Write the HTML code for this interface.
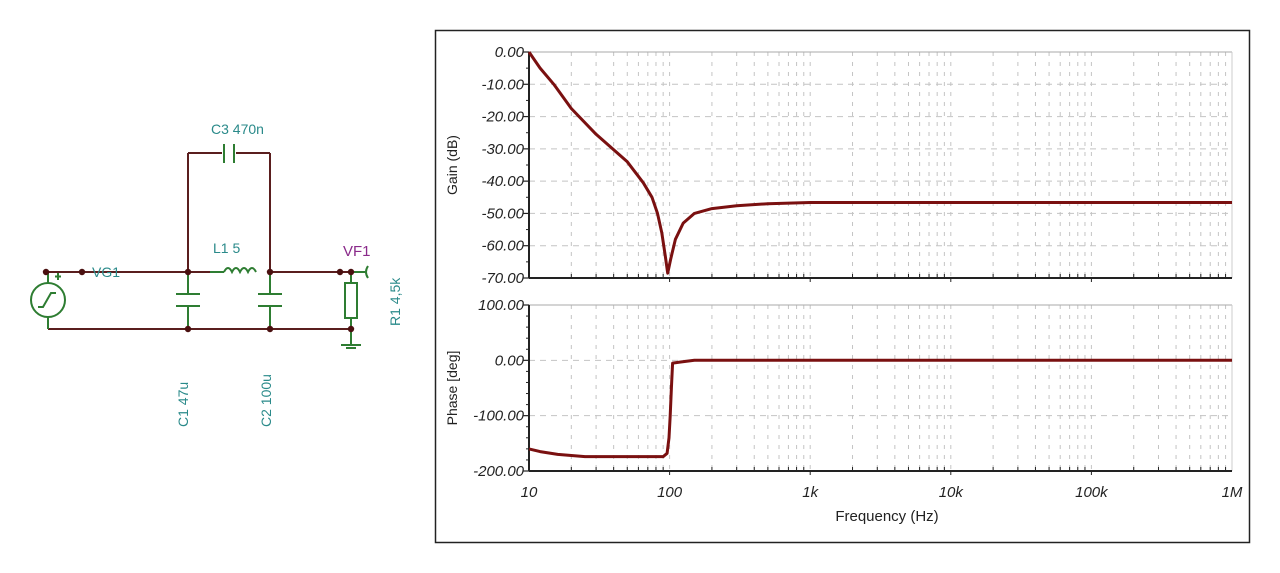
<!DOCTYPE html>
<html><head><meta charset="utf-8"><style>
html,body{margin:0;padding:0;background:#fff;}
svg{display:block;font-family:"Liberation Sans",Arial,sans-serif;}
</style></head><body>
<svg id="s" width="1280" height="573" viewBox="0 0 1280 573" xmlns="http://www.w3.org/2000/svg">
<rect width="1280" height="573" fill="#fff"/>
<g stroke="#5a1e1e" stroke-width="2" fill="none">
<line x1="46" y1="272" x2="188" y2="272"/>
<line x1="188" y1="272" x2="210" y2="272"/>
<line x1="270" y1="272" x2="362" y2="272"/>
<line x1="188" y1="272" x2="188" y2="153"/>
<line x1="188" y1="153" x2="222" y2="153"/>
<line x1="236" y1="153" x2="270" y2="153"/>
<line x1="270" y1="153" x2="270" y2="272"/>
<line x1="48" y1="329" x2="351" y2="329"/>
</g>
<g stroke="#2e7d32" stroke-width="2" fill="none">
<line x1="210" y1="272" x2="224" y2="272"/>
<path d="M224 272 q4 -8 8 0 q4 -8 8 0 q4 -8 8 0 q4 -8 8 0"/>
<line x1="224" y1="144" x2="224" y2="163"/>
<line x1="234" y1="144" x2="234" y2="163"/>
<line x1="48" y1="272" x2="48" y2="283"/><circle cx="48" cy="300" r="17"/>
<line x1="48" y1="317" x2="48" y2="329"/>
<path d="M38 307 h5 l8 -14 h5"/>
<line x1="188" y1="272" x2="188" y2="294"/><line x1="176" y1="294" x2="200" y2="294"/><line x1="176" y1="306" x2="200" y2="306"/><line x1="188" y1="306" x2="188" y2="329"/>
<line x1="270" y1="272" x2="270" y2="294"/><line x1="258" y1="294" x2="282" y2="294"/><line x1="258" y1="306" x2="282" y2="306"/><line x1="270" y1="306" x2="270" y2="329"/>
<line x1="351" y1="272" x2="351" y2="283"/><rect x="345" y="283" width="12" height="35"/><line x1="351" y1="318" x2="351" y2="345"/>
<line x1="341" y1="345" x2="361" y2="345"/><line x1="346" y1="348" x2="356" y2="348"/>
<line x1="351" y1="272" x2="365" y2="272"/><path d="M368 266 q-4 6 0 12"/>
<line x1="58" y1="273" x2="58" y2="280"/><line x1="55" y1="276.5" x2="61" y2="276.5"/>
</g>
<g fill="#4a1010">
<circle cx="46" cy="272" r="3.2"/><circle cx="82" cy="272" r="3.2"/><circle cx="188" cy="272" r="3.2"/><circle cx="270" cy="272" r="3.2"/>
<circle cx="340" cy="272" r="3.2"/><circle cx="351" cy="272" r="3.2"/><circle cx="188" cy="329" r="3.2"/><circle cx="270" cy="329" r="3.2"/><circle cx="351" cy="329" r="3.2"/>
</g>
<g fill="#2a8a8a" font-size="14">
<text x="92" y="277">VG1</text>
<text x="211" y="134">C3 470n</text>
<text x="213" y="253">L1 5</text>
<text transform="translate(188,427) rotate(-90)">C1 47u</text>
<text transform="translate(271,427) rotate(-90)">C2 100u</text>
<text transform="translate(400,326) rotate(-90)">R1 4,5k</text>
</g>
<text x="343" y="256" fill="#8a2a8a" font-size="15">VF1</text>
<rect x="435.5" y="30.5" width="814" height="512" fill="#fff" stroke="#222" stroke-width="1.5"/>
<g id="chart"></g>
</svg>
<script>
(function(){
var g=document.getElementById('chart'),ns='http://www.w3.org/2000/svg';
function el(t,a,txt){var e=document.createElementNS(ns,t);for(var k in a)e.setAttribute(k,a[k]);if(txt!=null)e.textContent=txt;g.appendChild(e);return e;}
var X0=529,X1=1232,D=(X1-X0)/5;
function fx(f){return X0+Math.log10(f/10)*D;}
var panels=[{top:52,bot:278,lo:-70,hi:0,step:10},{top:305,bot:471,lo:-200,hi:100,step:100}];
panels.forEach(function(p,pi){
 for(var d=0;d<5;d++)for(var m=2;m<=9;m++){var x=fx(10*Math.pow(10,d)*m);
  el('line',{x1:x,y1:p.top,x2:x,y2:p.bot,stroke:'#c4c4c4','stroke-width':1,'stroke-dasharray':'4,6'});
  el('line',{x1:x,y1:p.bot,x2:x,y2:p.bot-4,stroke:'#222','stroke-width':1});}
 for(var d=1;d<=4;d++){var x=fx(10*Math.pow(10,d));el('line',{x1:x,y1:p.top,x2:x,y2:p.bot,stroke:'#c4c4c4','stroke-width':1,'stroke-dasharray':'4,6'});el('line',{x1:x,y1:p.bot,x2:x,y2:p.bot+4,stroke:'#222','stroke-width':1});}
 var n=(p.hi-p.lo)/p.step;
 for(var i=0;i<=n;i++){var v=p.hi-i*p.step,y=p.top+(p.bot-p.top)*i/n;
  if(i>0&&i<n)el('line',{x1:X0,y1:y,x2:X1,y2:y,stroke:'#c4c4c4','stroke-width':1,'stroke-dasharray':'6,5'});
  el('line',{x1:X0-6,y1:y,x2:X0,y2:y,stroke:'#222','stroke-width':1.2});
  el('text',{x:X0-5,y:y+5,'text-anchor':'end','font-size':15,'font-style':'italic',fill:'#222'},v.toFixed(2));
  if(i<n){var sub=pi==0?2:5;for(var k=1;k<sub;k++){var yy=y+(p.bot-p.top)/n*k/sub;el('line',{x1:X0-3,y1:yy,x2:X0,y2:yy,stroke:'#222','stroke-width':1});}}
 }
 el('line',{x1:X0,y1:p.top,x2:X1,y2:p.top,stroke:'#aaa','stroke-width':1});
 el('line',{x1:X1,y1:p.top,x2:X1,y2:p.bot,stroke:'#ccc','stroke-width':1});
 el('line',{x1:X0,y1:p.top,x2:X0,y2:p.bot,stroke:'#222','stroke-width':2});
 el('line',{x1:X0,y1:p.bot,x2:X1,y2:p.bot,stroke:'#222','stroke-width':2});
 p.fy=function(v){return p.top+(p.hi-v)/(p.hi-p.lo)*(p.bot-p.top);};
});
el('text',{transform:'translate(457,165) rotate(-90)','text-anchor':'middle','font-size':14,fill:'#222'},'Gain (dB)');
el('text',{transform:'translate(457,388) rotate(-90)','text-anchor':'middle','font-size':14,fill:'#222'},'Phase [deg]');
['10','100','1k','10k','100k','1M'].forEach(function(t,i){el('text',{x:X0+i*D,y:497,'text-anchor':'middle','font-size':15,'font-style':'italic',fill:'#222'},t);});
el('text',{x:887,y:521,'text-anchor':'middle','font-size':15,fill:'#222'},'Frequency (Hz)');
var gain=[[10,0],[12,-5],[15,-10],[20,-17.5],[30,-25.5],[50,-34],[65,-40.5],[75,-45],[82,-50],[88,-56],[93,-63],[97,-68.5],[102,-64],[110,-58],[125,-53],[150,-50],[200,-48.5],[300,-47.6],[500,-47],[1000,-46.6],[1e6,-46.6]];
var ph=[[10,-160],[12,-165],[16,-170],[25,-174],[90,-174],[96,-168],[99,-140],[101,-100],[103,-50],[105,-5],[120,-3],[150,0],[1e6,0]];
function path(pts,p){return pts.map(function(q,i){return (i?'L':'M')+fx(q[0]).toFixed(1)+' '+p.fy(q[1]).toFixed(1);}).join(' ');}
el('path',{d:path(gain,panels[0]),fill:'none',stroke:'#7a1010','stroke-width':3,'stroke-linejoin':'round'});
el('path',{d:path(ph,panels[1]),fill:'none',stroke:'#7a1010','stroke-width':3,'stroke-linejoin':'round'});
})();
</script>
</body></html>
